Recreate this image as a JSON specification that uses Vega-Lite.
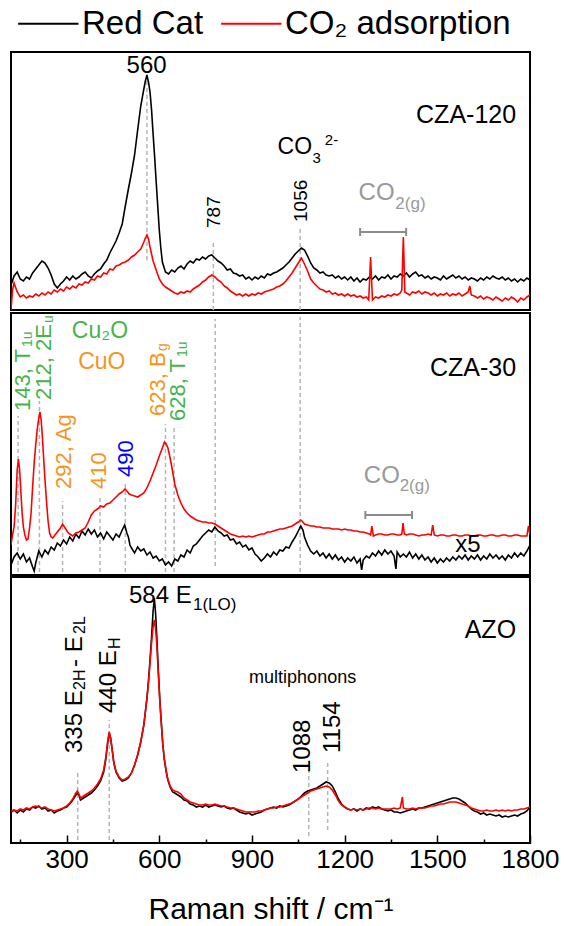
{
"$schema":"https://vega.github.io/schema/vega-lite/v6.json",
"background":"white",
"padding":{"left":10,"top":7,"right":4,"bottom":2},
"config":{"view":{"stroke":"black","strokeWidth":2},"font":"Liberation Sans","text":{"font":"Liberation Sans"},
"legend":{"orient":"top","direction":"horizontal","title":null,"symbolType":"M-1.1,0H6.0","symbolSize":289,"symbolStrokeWidth":2,"labelFontSize":33,"labelFont":"Liberation Sans","labelColor":"black","labelOffset":38,"columnPadding":10,"padding":0,"offset":10,"labelLimit":400}},
"spacing":0,
"resolve":{"scale":{"color":"shared","x":"independent","y":"independent"}},
"datasets":{
"t1":[{"x":120,"k":25,"r":0},{"x":125,"r":20},{"x":130,"k":34,"r":27},{"x":140,"k":38,"r":18},{"x":150,"k":31,"r":13},{"x":160,"k":29,"r":15},{"x":170,"k":33,"r":12},{"x":180,"k":31,"r":14},{"x":190,"k":37,"r":13},{"x":200,"k":41,"r":16},{"x":210,"k":45,"r":14},{"x":220,"k":49,"r":17},{"x":230,"k":47,"r":15},{"x":240,"k":42,"r":18},{"x":250,"k":35,"r":16},{"x":260,"k":26,"r":20},{"x":270,"k":22,"r":18},{"x":280,"k":26,"r":21},{"x":290,"k":29,"r":19},{"x":300,"k":33,"r":23},{"x":310,"k":30,"r":21},{"x":320,"k":34,"r":24},{"x":330,"k":31,"r":22},{"x":340,"k":33,"r":26},{"x":350,"k":36,"r":25},{"x":360,"k":38,"r":28},{"x":370,"k":34,"r":27},{"x":380,"k":32,"r":31},{"x":390,"k":36,"r":30},{"x":400,"k":39,"r":34},{"x":410,"k":41,"r":33},{"x":420,"k":46,"r":37},{"x":430,"k":50,"r":36},{"x":440,"k":57,"r":41},{"x":450,"k":63,"r":40},{"x":460,"k":69,"r":44},{"x":470,"k":77,"r":45},{"x":480,"k":86,"r":47},{"x":490,"k":104,"r":48},{"x":500,"k":121,"r":50},{"x":510,"k":137,"r":53},{"x":520,"k":155,"r":55},{"x":530,"k":180,"r":58},{"x":540,"k":204,"r":61},{"x":550,"k":221,"r":68},{"x":555,"k":229,"r":72},{"x":560,"k":235,"r":75},{"x":565,"k":228,"r":71},{"x":570,"k":218,"r":63},{"x":575,"k":200,"r":56},{"x":580,"k":176,"r":49},{"x":585,"k":153},{"x":590,"k":128,"r":40},{"x":595,"k":104},{"x":600,"k":80,"r":31},{"x":605,"k":62},{"x":610,"k":48,"r":26},{"x":620,"k":38,"r":23},{"x":630,"k":36,"r":21},{"x":640,"k":40,"r":19},{"x":650,"k":38,"r":17},{"x":660,"k":42,"r":16},{"x":670,"k":44,"r":18},{"x":680,"k":41,"r":17},{"x":690,"k":46,"r":19},{"x":700,"k":49,"r":18},{"x":710,"k":47,"r":21},{"x":720,"k":51,"r":23},{"x":730,"k":50,"r":25},{"x":740,"k":53,"r":28},{"x":750,"k":51,"r":30},{"x":760,"k":54,"r":33},{"x":770,"k":55,"r":35},{"x":780,"k":52,"r":33},{"x":790,"k":49,"r":30},{"x":800,"k":47,"r":28},{"x":810,"k":44,"r":24},{"x":820,"k":40,"r":22},{"x":830,"k":41,"r":19},{"x":840,"k":37,"r":17},{"x":850,"k":36,"r":15},{"x":860,"k":34,"r":16},{"x":870,"k":35,"r":14},{"x":880,"k":31,"r":16},{"x":890,"k":33,"r":14},{"x":900,"k":30,"r":16},{"x":910,"k":33,"r":15},{"x":920,"k":31,"r":17},{"x":930,"k":34,"r":16},{"x":940,"k":32,"r":18},{"x":950,"k":36,"r":19},{"x":960,"k":35,"r":20},{"x":970,"k":37,"r":21},{"x":980,"k":38,"r":23},{"x":990,"k":40,"r":24},{"x":1000,"k":42,"r":26},{"x":1010,"k":45,"r":29},{"x":1020,"k":48,"r":33},{"x":1030,"k":52,"r":37},{"x":1040,"k":56,"r":42},{"x":1050,"k":59,"r":47},{"x":1060,"k":62,"r":52},{"x":1070,"k":60,"r":46},{"x":1080,"k":54,"r":39},{"x":1090,"k":47,"r":31},{"x":1100,"k":42,"r":27},{"x":1110,"k":40,"r":24},{"x":1120,"k":37,"r":21},{"x":1130,"k":38,"r":20},{"x":1140,"k":35,"r":18},{"x":1150,"k":34,"r":19},{"x":1160,"k":35,"r":16},{"x":1170,"k":32,"r":17},{"x":1180,"k":34,"r":15},{"x":1190,"k":31,"r":16},{"x":1200,"k":33,"r":14},{"x":1210,"k":30,"r":16},{"x":1220,"k":33,"r":14},{"x":1230,"k":29,"r":15},{"x":1240,"k":32,"r":13},{"x":1250,"k":28,"r":14},{"x":1260,"k":31,"r":12},{"x":1270,"k":30,"r":13},{"x":1278,"r":10},{"x":1280,"k":33},{"x":1284,"r":53},{"x":1290,"k":31,"r":10},{"x":1300,"k":34,"r":13},{"x":1310,"k":30,"r":12},{"x":1320,"k":33,"r":14},{"x":1330,"k":32,"r":13},{"x":1340,"k":35,"r":15},{"x":1350,"k":31,"r":14},{"x":1360,"k":34,"r":16},{"x":1370,"k":33,"r":15},{"x":1380,"k":36,"r":17},{"x":1385,"r":20},{"x":1390,"k":34,"r":73},{"x":1395,"r":18},{"x":1400,"k":37,"r":17},{"x":1410,"k":33,"r":15},{"x":1420,"k":36,"r":18},{"x":1430,"k":38,"r":17},{"x":1440,"k":34,"r":19},{"x":1450,"k":35,"r":16},{"x":1460,"k":32,"r":18},{"x":1470,"k":34,"r":17},{"x":1480,"k":31,"r":15},{"x":1490,"k":33,"r":17},{"x":1500,"k":32,"r":14},{"x":1510,"k":30,"r":16},{"x":1520,"k":34,"r":15},{"x":1530,"k":31,"r":17},{"x":1540,"k":33,"r":14},{"x":1550,"k":35,"r":16},{"x":1560,"k":32,"r":15},{"x":1570,"k":34,"r":17},{"x":1580,"k":31,"r":14},{"x":1590,"k":33,"r":16},{"x":1600,"k":30,"r":18},{"x":1605,"r":24},{"x":1610,"k":32,"r":15},{"x":1620,"k":31,"r":14},{"x":1630,"k":29,"r":12},{"x":1640,"k":32,"r":14},{"x":1650,"k":30,"r":11},{"x":1660,"k":33,"r":13},{"x":1670,"k":31,"r":12},{"x":1680,"k":34,"r":10},{"x":1690,"k":32,"r":13},{"x":1700,"k":31,"r":11},{"x":1710,"k":33,"r":9},{"x":1720,"k":30,"r":12},{"x":1730,"k":32,"r":10},{"x":1740,"k":29,"r":13},{"x":1750,"k":31,"r":11},{"x":1760,"k":28,"r":8},{"x":1770,"k":31,"r":12},{"x":1780,"k":29,"r":10},{"x":1790,"k":32,"r":13},{"x":1800,"k":30,"r":15}],
"t2":[{"x":120,"k":10,"r":30},{"x":125,"r":40},{"x":130,"k":18,"r":48},{"x":135,"r":70},{"x":140,"k":22,"r":105},{"x":144,"r":116},{"x":148,"r":105},{"x":150,"k":16},{"x":152,"r":83},{"x":156,"r":62},{"x":160,"k":21,"r":48},{"x":165,"r":40},{"x":170,"k":13,"r":35},{"x":175,"r":36},{"x":180,"k":17,"r":47},{"x":185,"r":62},{"x":190,"k":8,"r":88},{"x":195,"k":4,"r":112},{"x":200,"k":12,"r":130},{"x":205,"r":146},{"x":210,"k":24,"r":157},{"x":214,"r":163},{"x":218,"r":154},{"x":220,"k":18},{"x":222,"r":136},{"x":226,"r":115},{"x":230,"k":25,"r":95},{"x":235,"r":73},{"x":240,"k":21,"r":54},{"x":245,"r":42},{"x":250,"k":28,"r":38},{"x":255,"r":37},{"x":260,"k":25,"r":39},{"x":270,"k":32,"r":43},{"x":280,"k":29,"r":47},{"x":287,"r":51},{"x":290,"k":35},{"x":295,"r":47},{"x":300,"k":31},{"x":303,"r":43},{"x":310,"k":38,"r":41},{"x":320,"k":34,"r":39},{"x":330,"k":41,"r":42},{"x":340,"k":37,"r":43},{"x":350,"k":44,"r":45},{"x":360,"k":40,"r":47},{"x":370,"k":46,"r":53},{"x":380,"k":41,"r":60},{"x":390,"k":45,"r":64},{"x":400,"k":38,"r":66},{"x":410,"k":42,"r":69},{"x":420,"k":36,"r":68},{"x":430,"k":43,"r":71},{"x":440,"k":39,"r":72},{"x":450,"k":35,"r":75},{"x":460,"k":41,"r":78},{"x":470,"k":38,"r":81},{"x":480,"k":45,"r":83},{"x":488,"k":50},{"x":489,"r":86},{"x":495,"k":42,"r":84},{"x":500,"k":38},{"x":503,"r":81},{"x":505,"k":30},{"x":510,"k":27,"r":80},{"x":520,"k":22,"r":79},{"x":530,"k":28,"r":78},{"x":540,"k":24,"r":80},{"x":550,"k":26,"r":82},{"x":560,"k":20,"r":87},{"x":570,"k":23,"r":94},{"x":580,"k":17,"r":102},{"x":590,"k":19,"r":110},{"x":600,"k":14,"r":119},{"x":610,"k":16,"r":127},{"x":617,"r":133},{"x":620,"k":10},{"x":622,"r":131},{"x":628,"r":127},{"x":630,"k":13},{"x":635,"r":117},{"x":640,"k":9,"r":109},{"x":645,"r":100},{"x":650,"k":16,"r":91},{"x":660,"k":14,"r":80},{"x":670,"k":20,"r":72},{"x":680,"k":18,"r":66},{"x":690,"k":25,"r":62},{"x":700,"k":22,"r":59},{"x":710,"k":29,"r":57},{"x":720,"k":31,"r":55},{"x":730,"k":35,"r":54},{"x":740,"k":39,"r":53},{"x":750,"k":42,"r":53},{"x":760,"k":45,"r":52},{"x":770,"k":43,"r":52},{"x":780,"k":48,"r":51},{"x":790,"k":44,"r":49},{"x":800,"k":42,"r":47},{"x":810,"k":39,"r":45},{"x":820,"k":40,"r":43},{"x":830,"k":35,"r":41},{"x":840,"k":36,"r":40},{"x":850,"k":31,"r":39},{"x":860,"k":33,"r":38},{"x":870,"k":28,"r":39},{"x":880,"k":30,"r":38},{"x":890,"k":25,"r":39},{"x":900,"k":27,"r":38},{"x":910,"k":21,"r":39},{"x":920,"k":18,"r":40},{"x":930,"k":14,"r":41},{"x":940,"k":17,"r":41},{"x":950,"k":21,"r":43},{"x":960,"k":18,"r":43},{"x":970,"k":23,"r":44},{"x":980,"k":20,"r":45},{"x":990,"k":25,"r":46},{"x":1000,"k":24,"r":46},{"x":1010,"k":28,"r":47},{"x":1020,"k":27,"r":48},{"x":1030,"k":33,"r":49},{"x":1040,"k":38,"r":51},{"x":1050,"k":44,"r":53},{"x":1058,"k":49,"r":55},{"x":1065,"k":45,"r":53},{"x":1070,"k":38,"r":51},{"x":1080,"k":30,"r":50},{"x":1090,"k":24,"r":49},{"x":1100,"k":21,"r":49},{"x":1110,"k":24,"r":48},{"x":1120,"k":19,"r":48},{"x":1130,"k":22,"r":47},{"x":1140,"k":17,"r":47},{"x":1150,"k":21,"r":47},{"x":1160,"k":16,"r":46},{"x":1170,"k":20,"r":46},{"x":1180,"k":15,"r":46},{"x":1190,"k":18,"r":45},{"x":1200,"k":13,"r":46},{"x":1210,"k":17,"r":45},{"x":1220,"k":14,"r":45},{"x":1230,"k":18,"r":44},{"x":1240,"k":12,"r":44},{"x":1250,"k":16,"r":43},{"x":1255,"k":5},{"x":1260,"k":15,"r":43},{"x":1270,"k":19,"r":42},{"x":1280,"k":17,"r":41},{"x":1284,"r":40},{"x":1288,"r":49},{"x":1290,"k":22},{"x":1293,"r":39},{"x":1300,"k":19,"r":40},{"x":1310,"k":24,"r":41},{"x":1320,"k":20,"r":41},{"x":1330,"k":25,"r":40},{"x":1340,"k":21,"r":40},{"x":1350,"k":24,"r":41},{"x":1360,"k":19,"r":41},{"x":1366,"k":6},{"x":1370,"k":23,"r":40},{"x":1380,"k":18,"r":40},{"x":1385,"r":41},{"x":1389,"r":52},{"x":1390,"k":21},{"x":1393,"r":41},{"x":1400,"k":18,"r":40},{"x":1410,"k":23,"r":41},{"x":1420,"k":17,"r":41},{"x":1430,"k":21,"r":40},{"x":1440,"k":16,"r":39},{"x":1450,"k":20,"r":40},{"x":1460,"k":15,"r":40},{"x":1470,"k":18,"r":41},{"x":1480,"k":13,"r":40},{"x":1485,"r":50},{"x":1490,"k":17,"r":40},{"x":1500,"k":12,"r":39},{"x":1510,"k":16,"r":40},{"x":1520,"k":13,"r":40},{"x":1530,"k":17,"r":39},{"x":1540,"k":14,"r":39},{"x":1550,"k":18,"r":40},{"x":1560,"k":15,"r":40},{"x":1570,"k":19,"r":39},{"x":1580,"k":16,"r":39},{"x":1590,"k":20,"r":40},{"x":1600,"k":15,"r":40},{"x":1610,"k":19,"r":39},{"x":1620,"k":16,"r":39},{"x":1630,"k":20,"r":40},{"x":1640,"k":15,"r":40},{"x":1650,"k":19,"r":39},{"x":1660,"k":16,"r":39},{"x":1670,"k":21,"r":40},{"x":1680,"k":17,"r":40},{"x":1690,"k":20,"r":39},{"x":1700,"k":16,"r":39},{"x":1710,"k":19,"r":40},{"x":1720,"k":15,"r":40},{"x":1730,"k":20,"r":39},{"x":1740,"k":17,"r":39},{"x":1750,"k":22,"r":40},{"x":1760,"k":18,"r":40},{"x":1770,"k":22,"r":39},{"x":1780,"k":19,"r":39},{"x":1790,"k":24,"r":39},{"x":1795,"r":49},{"x":1800,"k":30,"r":40}],
"t3":[{"x":120,"k":31,"r":32},{"x":130,"k":33,"r":33},{"x":140,"k":30,"r":32},{"x":150,"k":33,"r":34},{"x":160,"k":31,"r":33},{"x":170,"k":34,"r":35},{"x":180,"k":33,"r":34},{"x":190,"k":36,"r":36},{"x":200,"k":35,"r":37},{"x":210,"k":37,"r":36},{"x":220,"k":34,"r":35},{"x":230,"k":35,"r":36},{"x":240,"k":32,"r":34},{"x":250,"k":33,"r":33},{"x":260,"k":30,"r":32},{"x":270,"k":32,"r":33},{"x":280,"k":33,"r":34},{"x":290,"k":35,"r":35},{"x":300,"k":36,"r":37},{"x":310,"k":39,"r":40},{"x":320,"k":43,"r":44},{"x":328,"k":47,"r":49},{"x":335,"k":50,"r":52},{"x":340,"k":48,"r":49},{"x":345,"k":43,"r":45},{"x":350,"k":44,"r":46},{"x":360,"k":46,"r":48},{"x":370,"k":48,"r":50},{"x":380,"k":50,"r":52},{"x":390,"k":53,"r":55},{"x":400,"k":57,"r":59},{"x":410,"k":62,"r":64},{"x":420,"k":71,"r":73},{"x":427,"k":84,"r":86},{"x":433,"k":100,"r":102},{"x":438,"k":110,"r":111},{"x":443,"k":104,"r":104},{"x":448,"k":92,"r":92},{"x":453,"k":80,"r":80},{"x":460,"k":71,"r":72},{"x":470,"k":65,"r":66},{"x":480,"k":62,"r":63},{"x":490,"k":63,"r":64},{"x":500,"k":65,"r":66},{"x":510,"k":70,"r":70},{"x":520,"k":78,"r":78},{"x":530,"k":88,"r":88},{"x":540,"k":101,"r":101},{"x":550,"k":118,"r":118},{"x":560,"k":145,"r":144},{"x":565,"k":162,"r":160},{"x":570,"k":183,"r":180},{"x":575,"k":206,"r":200},{"x":580,"k":232,"r":216},{"x":584,"k":245,"r":223},{"x":588,"k":230,"r":214},{"x":592,"k":206,"r":198},{"x":597,"k":172,"r":168},{"x":602,"k":142,"r":140},{"x":606,"k":123,"r":122},{"x":611,"k":100,"r":100},{"x":616,"k":84,"r":85},{"x":622,"k":72,"r":73},{"x":627,"k":64,"r":65},{"x":635,"k":56,"r":57},{"x":643,"k":51,"r":53},{"x":650,"k":50,"r":52},{"x":660,"k":48,"r":51},{"x":670,"k":46,"r":49},{"x":680,"k":43,"r":45},{"x":690,"k":42,"r":43},{"x":700,"k":39,"r":41},{"x":710,"k":38,"r":40},{"x":720,"k":36,"r":39},{"x":730,"k":37,"r":38},{"x":740,"k":36,"r":38},{"x":750,"k":38,"r":39},{"x":760,"k":36,"r":38},{"x":770,"k":37,"r":38},{"x":780,"k":38,"r":39},{"x":790,"k":37,"r":38},{"x":800,"k":36,"r":37},{"x":810,"k":37,"r":37},{"x":820,"k":35,"r":36},{"x":830,"k":34,"r":35},{"x":840,"k":35,"r":35},{"x":850,"k":33,"r":34},{"x":860,"k":31,"r":33},{"x":870,"k":30,"r":32},{"x":880,"k":29,"r":31},{"x":890,"k":30,"r":31},{"x":900,"k":28,"r":31},{"x":910,"k":29,"r":31},{"x":920,"k":30,"r":32},{"x":930,"k":31,"r":32},{"x":940,"k":33,"r":33},{"x":950,"k":34,"r":34},{"x":960,"k":35,"r":35},{"x":970,"k":36,"r":35},{"x":980,"k":35,"r":36},{"x":990,"k":37,"r":36},{"x":1000,"k":36,"r":37},{"x":1010,"k":37,"r":38},{"x":1020,"k":38,"r":39},{"x":1030,"k":40,"r":40},{"x":1040,"k":42,"r":42},{"x":1050,"k":44,"r":44},{"x":1060,"k":47,"r":46},{"x":1070,"k":50,"r":48},{"x":1080,"k":52,"r":50},{"x":1090,"k":53,"r":52},{"x":1100,"k":54,"r":53},{"x":1110,"k":55,"r":54},{"x":1120,"k":57,"r":55},{"x":1130,"k":59,"r":56},{"x":1140,"k":61,"r":57},{"x":1150,"k":60,"r":56},{"x":1160,"k":57,"r":53},{"x":1170,"k":51,"r":48},{"x":1180,"k":44,"r":42},{"x":1190,"k":39,"r":38},{"x":1200,"k":36,"r":36},{"x":1210,"k":34,"r":34},{"x":1220,"k":33,"r":33},{"x":1230,"k":34,"r":34},{"x":1240,"k":32,"r":33},{"x":1250,"k":34,"r":34},{"x":1260,"k":33,"r":33},{"x":1270,"k":35,"r":34},{"x":1280,"k":34,"r":35},{"x":1290,"k":36,"r":35},{"x":1300,"k":35,"r":34},{"x":1310,"k":36,"r":35},{"x":1320,"k":34,"r":34},{"x":1330,"k":33,"r":34},{"x":1340,"k":32,"r":34},{"x":1350,"k":33,"r":34},{"x":1360,"k":31,"r":35},{"x":1370,"k":31,"r":34},{"x":1380,"k":30,"r":35},{"x":1387,"r":46},{"x":1390,"k":31,"r":35},{"x":1400,"k":32,"r":34},{"x":1410,"k":33,"r":34},{"x":1420,"k":34,"r":35},{"x":1430,"k":33,"r":34},{"x":1440,"k":35,"r":35},{"x":1450,"k":35,"r":35},{"x":1460,"k":36,"r":35},{"x":1470,"k":37,"r":36},{"x":1480,"k":38,"r":37},{"x":1490,"k":39,"r":37},{"x":1500,"k":40,"r":38},{"x":1510,"k":41,"r":39},{"x":1520,"k":42,"r":39},{"x":1530,"k":43,"r":40},{"x":1540,"k":44,"r":41},{"x":1550,"k":45,"r":41},{"x":1560,"k":45,"r":41},{"x":1570,"k":44,"r":40},{"x":1580,"k":42,"r":39},{"x":1590,"k":40,"r":38},{"x":1600,"k":37,"r":37},{"x":1610,"k":34,"r":35},{"x":1620,"k":32,"r":34},{"x":1630,"k":31,"r":33},{"x":1640,"k":29,"r":32},{"x":1650,"k":30,"r":32},{"x":1660,"k":28,"r":33},{"x":1670,"k":29,"r":32},{"x":1680,"k":28,"r":32},{"x":1690,"k":27,"r":33},{"x":1700,"k":28,"r":32},{"x":1710,"k":26,"r":33},{"x":1720,"k":27,"r":32},{"x":1730,"k":26,"r":33},{"x":1740,"k":27,"r":32},{"x":1750,"k":28,"r":33},{"x":1760,"k":27,"r":33},{"x":1770,"k":29,"r":34},{"x":1780,"k":30,"r":34},{"x":1790,"k":32,"r":35},{"x":1800,"k":36,"r":36}]
},
"vconcat":[
{"width":519,"height":258,
"encoding":{"x":{"field":"x","type":"quantitative","scale":{"domain":[120,1800],"nice":false,"zero":false},"axis":null},"y":{"field":"y","type":"quantitative","scale":{"domain":[0,258],"nice":false,"zero":false},"axis":null}},
"layer":[
{"data":{"values":[{"x":560,"y":50,"y2":230},{"x":775,"y":0,"y2":70},{"x":1056,"y":0,"y2":83}]},"mark":{"type":"rule","color":"#b5b5b5","strokeDash":[4,3],"strokeWidth":1.5},"encoding":{"y2":{"field":"y2"}}},
{"data":{"name":"t1"},"transform":[{"fold":["k","r"],"as":["s","y"]},{"filter":"isValid(datum.y)"}],"mark":{"type":"line","strokeWidth":1.6,"clip":true},"encoding":{"color":{"field":"s","type":"nominal","scale":{"domain":["k","r"],"range":["#000000","#ff0000"]},"legend":{"labelExpr":"datum.value == 'k' ? 'Red Cat' : 'CO₂ adsorption'"}}}},
{"data":{"values":[{"x":559,"y":244,"t":"560"}]},"mark":{"type":"text","fontSize":24,"color":"black","align":"center","baseline":"middle"},"encoding":{"text":{"field":"t"}}},
{"data":{"values":[{"x":983,"y":163,"t":"CO"}]},"mark":{"type":"text","fontSize":23,"color":"black","align":"left","baseline":"middle"},"encoding":{"text":{"field":"t"}}},
{"data":{"values":[{"x":1096,"y":152,"t":"3"},{"x":1136,"y":170,"t":"2-"}]},"mark":{"type":"text","fontSize":15,"color":"black","align":"left","baseline":"middle"},"encoding":{"text":{"field":"t"}}},
{"data":{"values":[{"x":1755,"y":195,"t":"CZA-120"}]},"mark":{"type":"text","fontSize":25,"color":"black","align":"right","baseline":"middle"},"encoding":{"text":{"field":"t"}}},
{"data":{"values":[{"x":777,"y":82,"t":"787"},{"x":1059,"y":88,"t":"1056"}]},"mark":{"type":"text","fontSize":19,"color":"black","angle":270,"align":"left","baseline":"middle"},"encoding":{"text":{"field":"t"}}},
{"data":{"values":[{"x":1245,"y":117,"t":"CO"}]},"mark":{"type":"text","fontSize":24,"color":"#999999","align":"left","baseline":"middle"},"encoding":{"text":{"field":"t"}}},
{"data":{"values":[{"x":1364,"y":106,"t":"2(g)"}]},"mark":{"type":"text","fontSize":17,"color":"#999999","align":"left","baseline":"middle"},"encoding":{"text":{"field":"t"}}},
{"data":{"values":[{"x":1250,"x2":1399,"y":78}]},"mark":{"type":"rule","color":"#8c8c8c","strokeWidth":2},"encoding":{"x2":{"field":"x2"}}},
{"data":{"values":[{"x":1250,"y":74,"y2":82},{"x":1399,"y":74,"y2":82}]},"mark":{"type":"rule","color":"#8c8c8c","strokeWidth":2},"encoding":{"y2":{"field":"y2"}}}
]},
{"width":519,"height":262,
"encoding":{"x":{"field":"x","type":"quantitative","scale":{"domain":[120,1800],"nice":false,"zero":false},"axis":null},"y":{"field":"y","type":"quantitative","scale":{"domain":[0,262],"nice":false,"zero":false},"axis":null}},
"layer":[
{"data":{"values":[{"x":143,"y":3,"y2":159},{"x":212,"y":3,"y2":174},{"x":287,"y":3,"y2":74},{"x":408,"y":3,"y2":78},{"x":490,"y":3,"y2":94},{"x":620,"y":3,"y2":151},{"x":648,"y":3,"y2":150},{"x":781,"y":9,"y2":256},{"x":1056,"y":3,"y2":258}]},"mark":{"type":"rule","color":"#b5b5b5","strokeDash":[4,3],"strokeWidth":1.5},"encoding":{"y2":{"field":"y2"}}},
{"data":{"name":"t2"},"transform":[{"fold":["k","r"],"as":["s","y"]},{"filter":"isValid(datum.y)"}],"mark":{"type":"line","strokeWidth":1.6,"clip":true},"encoding":{"color":{"field":"s","type":"nominal","scale":{"domain":["k","r"],"range":["#000000","#ff0000"]},"legend":{"labelExpr":"datum.value == 'k' ? 'Red Cat' : 'CO₂ adsorption'"}}}},
{"data":{"values":[{"x":158,"y":164,"t":"143, T"},{"x":228,"y":175,"t":"212, 2E"},{"x":660,"y":154,"t":"628, T"}]},"mark":{"type":"text","fontSize":22,"color":"#45b549","angle":270,"align":"left","baseline":"middle"},"encoding":{"text":{"field":"t"}}},
{"data":{"values":[{"x":174,"y":228,"t":"1u"},{"x":244,"y":252,"t":"u"},{"x":676,"y":218,"t":"1u"}]},"mark":{"type":"text","fontSize":14,"color":"#45b549","angle":270,"align":"left","baseline":"middle"},"encoding":{"text":{"field":"t"}}},
{"data":{"values":[{"x":293,"y":86,"t":"292, Ag"},{"x":406,"y":86,"t":"410"},{"x":595,"y":159,"t":"623, B"}]},"mark":{"type":"text","fontSize":22,"color":"#f7941d","angle":270,"align":"left","baseline":"middle"},"encoding":{"text":{"field":"t"}}},
{"data":{"values":[{"x":611,"y":224,"t":"g"}]},"mark":{"type":"text","fontSize":14,"color":"#f7941d","angle":270,"align":"left","baseline":"middle"},"encoding":{"text":{"field":"t"}}},
{"data":{"values":[{"x":492,"y":98,"t":"490"}]},"mark":{"type":"text","fontSize":22,"color":"#0000ff","angle":270,"align":"left","baseline":"middle"},"encoding":{"text":{"field":"t"}}},
{"data":{"values":[{"x":408,"y":244,"t":"Cu₂O"}]},"mark":{"type":"text","fontSize":23,"color":"#45b549","align":"center","baseline":"middle"},"encoding":{"text":{"field":"t"}}},
{"data":{"values":[{"x":414,"y":213,"t":"CuO"}]},"mark":{"type":"text","fontSize":23,"color":"#f7941d","align":"center","baseline":"middle"},"encoding":{"text":{"field":"t"}}},
{"data":{"values":[{"x":1755,"y":207,"t":"CZA-30"}]},"mark":{"type":"text","fontSize":25,"color":"black","align":"right","baseline":"middle"},"encoding":{"text":{"field":"t"}}},
{"data":{"values":[{"x":1599,"y":30,"t":"x5"}]},"mark":{"type":"text","fontSize":24,"color":"black","align":"center","baseline":"middle"},"encoding":{"text":{"field":"t"}}},
{"data":{"values":[{"x":1262,"y":99,"t":"CO"}]},"mark":{"type":"text","fontSize":24,"color":"#999999","align":"left","baseline":"middle"},"encoding":{"text":{"field":"t"}}},
{"data":{"values":[{"x":1378,"y":89,"t":"2(g)"}]},"mark":{"type":"text","fontSize":17,"color":"#999999","align":"left","baseline":"middle"},"encoding":{"text":{"field":"t"}}},
{"data":{"values":[{"x":1267,"x2":1418,"y":60}]},"mark":{"type":"rule","color":"#8c8c8c","strokeWidth":2},"encoding":{"x2":{"field":"x2"}}},
{"data":{"values":[{"x":1267,"y":56,"y2":64},{"x":1418,"y":56,"y2":64}]},"mark":{"type":"rule","color":"#8c8c8c","strokeWidth":2},"encoding":{"y2":{"field":"y2"}}}
]},
{"width":519,"height":266,
"encoding":{"x":{"field":"x","type":"quantitative","scale":{"domain":[120,1800],"nice":false,"zero":false},"axis":{"values":[150,300,450,600,750,900,1050,1200,1350,1500,1650,1800],"format":"d","labelExpr":"datum.value % 300 === 0 ? datum.label : ''","domain":false,"grid":false,"tickColor":"black","tickWidth":1.5,"tickSize":{"condition":{"test":"datum.value % 300 === 0","value":-8},"value":-4},"labelFontSize":26,"labelColor":"black","labelFont":"Liberation Sans","labelPadding":11,"labelFlush":false,"labelOverlap":false,"title":"Raman shift / cm⁻¹","titleFontSize":30,"titleFontWeight":"normal","titleColor":"black","titleFont":"Liberation Sans","titlePadding":18}},"y":{"field":"y","type":"quantitative","scale":{"domain":[0,266],"nice":false,"zero":false},"axis":null}},
"layer":[
{"data":{"values":[{"x":336,"y":3,"y2":73},{"x":438,"y":3,"y2":123},{"x":1084,"y":7,"y2":73},{"x":1145,"y":13,"y2":83}]},"mark":{"type":"rule","color":"#b5b5b5","strokeDash":[4,3],"strokeWidth":1.5},"encoding":{"y2":{"field":"y2"}}},
{"data":{"name":"t3"},"transform":[{"fold":["k","r"],"as":["s","y"]},{"filter":"isValid(datum.y)"}],"mark":{"type":"line","strokeWidth":1.6,"clip":true},"encoding":{"color":{"field":"s","type":"nominal","scale":{"domain":["k","r"],"range":["#000000","#ff0000"]},"legend":{"labelExpr":"datum.value == 'k' ? 'Red Cat' : 'CO₂ adsorption'"}}}},
{"data":{"values":[{"x":327,"y":90,"t":"335 E"},{"x":327,"y":176,"t":"- E"},{"x":438,"y":130,"t":"440 E"},{"x":1064,"y":70,"t":"1088"},{"x":1161,"y":90,"t":"1154"}]},"mark":{"type":"text","fontSize":24,"color":"black","angle":270,"align":"left","baseline":"middle"},"encoding":{"text":{"field":"t"}}},
{"data":{"values":[{"x":343,"y":153,"t":"2H"},{"x":343,"y":209,"t":"2L"},{"x":456,"y":194,"t":"H"}]},"mark":{"type":"text","fontSize":16,"color":"black","angle":270,"align":"left","baseline":"middle"},"encoding":{"text":{"field":"t"}}},
{"data":{"values":[{"x":502,"y":247,"t":"584 E"}]},"mark":{"type":"text","fontSize":24,"color":"black","align":"left","baseline":"middle"},"encoding":{"text":{"field":"t"}}},
{"data":{"values":[{"x":709,"y":238,"t":"1(LO)"}]},"mark":{"type":"text","fontSize":17,"color":"black","align":"left","baseline":"middle"},"encoding":{"text":{"field":"t"}}},
{"data":{"values":[{"x":1064,"y":165,"t":"multiphonons"}]},"mark":{"type":"text","fontSize":18,"color":"black","align":"center","baseline":"middle"},"encoding":{"text":{"field":"t"}}},
{"data":{"values":[{"x":1755,"y":213,"t":"AZO"}]},"mark":{"type":"text","fontSize":25,"color":"black","align":"right","baseline":"middle"},"encoding":{"text":{"field":"t"}}}
]}
]
}
